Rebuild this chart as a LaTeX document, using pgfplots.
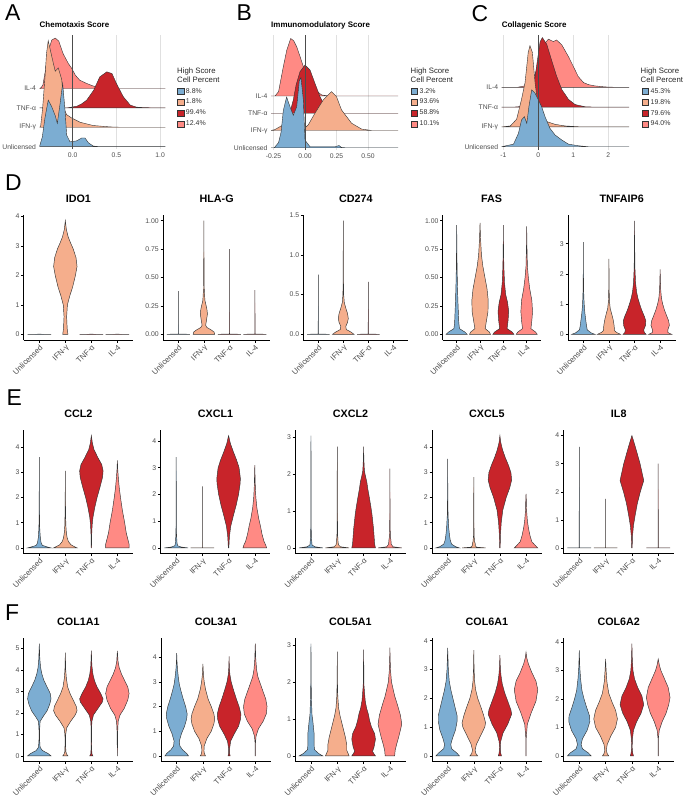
\documentclass[border=0pt]{standalone}
\usepackage{fontspec}
\setmainfont{Liberation Sans}
\usepackage{pgfplots}
\pgfplotsset{compat=1.18}
\definecolor{cBlue}{HTML}{7CADD2}
\definecolor{cPeach}{HTML}{F5AE8C}
\definecolor{cRed}{HTML}{C8242A}
\definecolor{cPink}{HTML}{FF8A84}

% violin: centre, colour, list of y/half-width (bottom to top)
\newcommand\vln[3]{%
  \gdef\vR{}\gdef\vL{}%
  \foreach \yy/\ww in {#3}{%
    \pgfmathsetmacro\xr{#1+\ww}\pgfmathsetmacro\xl{#1-\ww}%
    \xdef\vR{\vR(\xr,\yy)}\xdef\vL{(\xl,\yy)\vL}}%
  \edef\vtmp{\noexpand\addplot[fill=#2,draw=black!80,line width=0.45bp] coordinates {\vR\vL} -- cycle;}%
  \vtmp}
% ridge: baseline, colour, list of x/height
\newcommand\ridge[3]{%
  \gdef\vR{}%
  \foreach \xx/\hh in {#3}{%
    \pgfmathsetmacro\yv{#1+\hh}%
    \xdef\vR{\vR(\xx,\yv)}}%
  \edef\vtmp{\noexpand\addplot[fill=#2,draw=black!80,line width=0.4bp] coordinates {\vR} -- cycle;}%
  \vtmp}

\pgfplotsset{
  vio/.style={scale only axis, anchor=south west, height=123.5bp,
    xmin=0.4, xmax=4.6, xtick={1,2,3,4},
    xticklabels={Unlicensed,IFN-γ,TNF-α,IL-4},
    axis lines=left, axis line style={-,line width=0.5bp},
    tick align=outside, major tick length=2.5bp,
    every tick/.style={black,line width=0.5bp},
    xticklabel style={rotate=45,anchor=north east,font=\fontsize{7.8}{9}\selectfont,text=black!70,inner sep=1bp},
    yticklabel style={font=\fontsize{6.9}{8}\selectfont,text=black!70,inner sep=1.5bp},
    title style={font=\bfseries\fontsize{10.8}{12}\selectfont,at={(0.5,1)},anchor=base,inner sep=0pt,yshift=7bp}},
  rdg/.style={scale only axis, anchor=south west,
    axis line style={draw=none}, tick style={draw=none},
    ytick={0,1,2,3}, yticklabels={Unlicensed,IFN-γ,TNF-α,IL-4},
    xmajorgrids, grid style={black!12,line width=0.5bp},
    ticklabel style={font=\fontsize{6.8}{8}\selectfont,text=black!70},
    title style={at={(0,1)},anchor=base west,inner sep=0pt,yshift=1.5bp,font=\bfseries\fontsize{8}{9}\selectfont},
    reverse legend,
    legend style={draw=none,fill=none,font=\fontsize{7}{8}\selectfont,anchor=north west,
      row sep=0.6bp,inner sep=0pt,cells={anchor=west,text=black!80}},
    legend image code/.code={\draw[#1,draw=black!80,line width=0.4bp] (0bp,-3.2bp) rectangle (6.4bp,3.2bp);}},
}

\begin{document}
\begin{tikzpicture}
\useasboundingbox (0,0) rectangle (685bp,-798bp);

% ---------------- A
\begin{axis}[rdg, at={(39.5bp,-149bp)}, width=125.8bp, height=114bp,
  xmin=-0.38, xmax=1.06, ymin=-0.12, ymax=5.76,
  xtick={0,0.5,1}, xticklabels={0.0,0.5,1.0},
  title={Chemotaxis Score}, legend style={at={(1.093,0.553)}}]
\ridge{3}{cPink}{-0.38/0,-0.36/0.05,-0.34/0.2,-0.31/1.0,-0.28/1.9,-0.24/2.5,-0.2/2.6,-0.16/2.45,-0.11/1.8,-0.05/1.29,-0.01/1.03,0.03/0.69,0.08/0.43,0.16/0.26,0.24/0.12,0.31/0.03,0.38/0,1.06/0}
\addlegendentry{12.4\%}
\ridge{2}{cRed}{-0.38/0,-0.1/0,-0.05/0.01,0.05/0.09,0.1/0.2,0.16/0.4,0.24/0.91,0.31/1.6,0.39/1.86,0.45/1.77,0.5/1.26,0.58/0.57,0.66/0.14,0.73/0.04,0.8/0.02,0.94/0,1.06/0}
\addlegendentry{99.4\%}
\ridge{1}{cPeach}{-0.38/0,-0.367/0.05,-0.344/1.0,-0.317/2.6,-0.3/3.8,-0.28/4.47,-0.24/3.66,-0.2/2.89,-0.165/3.06,-0.126/2.47,-0.096/0.91,-0.069/0.65,-0.012/0.48,0.084/0.26,0.236/0.09,0.427/0.02,0.55/0,1.06/0}
\addlegendentry{1.8\%}
\ridge{0}{cBlue}{-0.38/0,-0.348/0.5,-0.317/1.5,-0.28/2.4,-0.24/2.06,-0.2/1.6,-0.176/1.2,-0.145/2.2,-0.115/3.27,-0.088/1.89,-0.069/0.6,-0.031/0.25,0.046/0.3,0.103/0.45,0.141/0.45,0.18/0.2,0.236/0.03,0.31/0,1.06/0}
\addlegendentry{8.8\%}
\addplot[black!70,line width=0.7bp,forget plot] coordinates {(0,-0.12) (0,5.76)};
\end{axis}

% ---------------- B
\begin{axis}[rdg, at={(271bp,-150bp)}, width=127.2bp, height=115bp,
  xmin=-0.27, xmax=0.74, ymin=-0.13, ymax=6.53,
  xtick={-0.25,0,0.25,0.5}, xticklabels={-0.25,0.00,0.25,0.50},
  title={Immunomodulatory Score}, legend style={at={(1.098,0.557)}}]
\ridge{3}{cPink}{-0.27/0,-0.238/0,-0.21/0.25,-0.172/1.7,-0.145/2.65,-0.114/3.33,-0.09/3.2,-0.066/2.85,-0.04/2.3,-0.013/1.7,0.026/0.92,0.079/0.35,0.132/0.06,0.185/0,0.74/0}
\addlegendentry{10.1\%}
\ridge{2}{cRed}{-0.27/0,-0.13/0,-0.119/0.05,-0.093/0.77,-0.071/1.63,-0.04/2.4,0.0/2.79,0.04/2.5,0.079/1.73,0.119/0.96,0.159/0.38,0.21/0.1,0.29/0,0.74/0}
\addlegendentry{58.8\%}
\ridge{1}{cPeach}{-0.27/0,-0.24/0.05,-0.18/0.3,-0.12/0.4,-0.06/0.35,-0.02/0.15,0.0/0.15,0.026/0.33,0.079/1.0,0.145/1.77,0.21/2.25,0.25/1.96,0.29/1.19,0.37/0.42,0.45/0.08,0.53/0,0.74/0}
\addlegendentry{93.6\%}
\ridge{0}{cBlue}{-0.27/0,-0.244/0,-0.21/0.3,-0.19/0.9,-0.172/2.17,-0.146/2.94,-0.119/2.37,-0.093/1.88,-0.066/2.37,-0.045/3.9,-0.032/4.06,-0.013/2.75,0.0/0.44,0.04/0.06,0.24/0.06,0.27/0.13,0.29/0.02,0.32/0,0.74/0}
\addlegendentry{3.2\%}
\addplot[black!70,line width=0.7bp,forget plot] coordinates {(0,-0.13) (0,6.53)};
\end{axis}

% ---------------- C
\begin{axis}[rdg, at={(501.6bp,-149.7bp)}, width=127.4bp, height=114.7bp,
  xmin=-1.05, xmax=2.59, ymin=-0.15, ymax=5.64,
  xtick={-1,0,1,2}, xticklabels={-1,0,1,2},
  title={Collagenic Score}, legend style={at={(1.1,0.555)}}]
\ridge{3}{cPink}{-1.05/0,-0.6/0,-0.3/0.1,-0.1/0.6,0.05/1.6,0.19/2.23,0.286/2.43,0.43/2.31,0.52/2.39,0.67/2.14,0.86/1.55,1.0/1.05,1.14/0.54,1.29/0.24,1.43/0.135,1.62/0.07,1.9/0.02,2.2/0,2.59/0}
\addlegendentry{94.0\%}
\ridge{2}{cRed}{-1.05/0,-0.7/0,-0.5/0.03,-0.3/0.3,-0.15/0.8,-0.05/2.07,0.05/3.3,0.114/3.51,0.24/3.17,0.38/2.36,0.52/1.57,0.67/0.89,0.86/0.39,1.05/0.13,1.33/0.02,1.6/0,2.59/0}
\addlegendentry{79.6\%}
\ridge{1}{cPeach}{-1.05/0,-0.8/0.05,-0.62/0.39,-0.48/1.4,-0.38/2.24,-0.29/3.76,-0.24/4.1,-0.17/3.76,-0.095/2.24,0.0/0.89,0.19/0.3,0.48/0.13,0.76/0.05,1.24/0,2.59/0}
\addlegendentry{19.8\%}
\ridge{0}{cBlue}{-1.05/0,-0.71/0.13,-0.57/0.67,-0.48/1.35,-0.4/1.52,-0.33/1.18,-0.27/2.02,-0.19/2.87,-0.095/2.7,0.0/2.36,0.095/2.02,0.19/1.52,0.33/0.93,0.48/0.59,0.67/0.34,0.86/0.13,1.14/0.05,1.43/0,2.59/0}
\addlegendentry{45.3\%}
\addplot[black!70,line width=0.7bp,forget plot] coordinates {(0,-0.15) (0,5.64)};
\end{axis}

% legend titles
\node[anchor=north west,align=left,inner sep=0pt,font=\fontsize{7.8}{8.8}\selectfont,text=black!85] at (177bp,-67.5bp) {High Score\\Cell Percent};
\node[anchor=north west,align=left,inner sep=0pt,font=\fontsize{7.8}{8.8}\selectfont,text=black!85] at (410.5bp,-67.5bp) {High Score\\Cell Percent};
\node[anchor=north west,align=left,inner sep=0pt,font=\fontsize{7.8}{8.8}\selectfont,text=black!85] at (640.5bp,-67.5bp) {High Score\\Cell Percent};

% ---------------- D row
\begin{axis}[vio, at={(23.7bp,-340bp)}, width=109.3bp, height=125bp, ymin=-0.1925, ymax=4.0425,
  ytick={0,1,2,3,4}, yticklabels={0,1,2,3,4}, title={IDO1}]
\vln{1}{cBlue}{0/0.45,0.004/0}
\vln{2}{cPeach}{0/0.1,0.2/0.07,0.6/0.05,1.0/0.08,1.3/0.17,1.6/0.28,2.0/0.39,2.3/0.45,2.6/0.41,2.9/0.3,3.1/0.2,3.3/0.11,3.55/0.04,3.85/0}
\vln{3}{cRed}{0/0.45,0.004/0}
\vln{4}{cPink}{0/0.45,0.004/0}
\end{axis}
\begin{axis}[vio, at={(163bp,-340bp)}, width=107.3bp, height=125bp, ymin=-0.05, ymax=1.05,
  ytick={0,0.25,0.5,0.75,1}, yticklabels={0.00,0.25,0.50,0.75,1.00}, title={HLA-G}]
\vln{1}{cBlue}{0/0.45,0.003/0.004,0.38/0}
\vln{2}{cPeach}{0/0.42,0.02/0.4,0.04/0.28,0.06/0.12,0.08/0.07,0.12/0.1,0.18/0.14,0.22/0.12,0.3/0.04,0.4/0.015,0.55/0.008,1.0/0}
\vln{3}{cRed}{0/0.45,0.003/0.004,0.75/0}
\vln{4}{cPink}{0/0.45,0.003/0.004,0.39/0}
\end{axis}
\begin{axis}[vio, at={(303.3bp,-340bp)}, width=105bp, height=125bp, ymin=-0.0715, ymax=1.5015,
  ytick={0,0.5,1,1.5}, yticklabels={0.0,0.5,1.0,1.5}, title={CD274}]
\vln{1}{cBlue}{0/0.45,0.004/0.004,0.75/0}
\vln{2}{cPeach}{0/0.43,0.03/0.3,0.06/0.12,0.1/0.1,0.15/0.17,0.2/0.2,0.26/0.17,0.33/0.1,0.4/0.04,0.5/0.015,0.7/0.006,1.43/0}
\vln{3}{cRed}{0/0.45,0.004/0.004,0.66/0}
\end{axis}
\begin{axis}[vio, at={(442.7bp,-340bp)}, width=98bp, height=125bp, ymin=-0.05, ymax=1.05,
  ytick={0,0.25,0.5,0.75,1}, yticklabels={0.00,0.25,0.50,0.75,1.00}, title={FAS}]
\vln{1}{cBlue}{0/0.45,0.02/0.35,0.05/0.12,0.1/0.09,0.2/0.07,0.3/0.05,0.45/0.03,0.6/0.015,0.8/0.006,0.96/0}
\vln{2}{cPeach}{0/0.45,0.02/0.4,0.05/0.22,0.1/0.26,0.2/0.34,0.3/0.35,0.4/0.3,0.5/0.21,0.6/0.12,0.7/0.06,0.85/0.02,0.98/0}
\vln{3}{cRed}{0/0.45,0.02/0.38,0.05/0.16,0.12/0.2,0.2/0.23,0.28/0.18,0.35/0.1,0.45/0.05,0.6/0.02,0.8/0.006,0.96/0}
\vln{4}{cPink}{0/0.45,0.02/0.38,0.05/0.18,0.12/0.22,0.2/0.25,0.3/0.22,0.4/0.13,0.5/0.07,0.6/0.03,0.8/0.008,0.95/0}
\end{axis}
\begin{axis}[vio, at={(568bp,-340bp)}, width=107.5bp, height=125bp, ymin=-0.188, ymax=3.948,
  ytick={0,1,2,3}, yticklabels={0,1,2,3}, title={TNFAIP6}]
\vln{1}{cBlue}{0/0.45,0.05/0.3,0.15/0.15,0.3/0.12,0.5/0.09,0.7/0.06,0.9/0.04,1.2/0.02,1.6/0.008,2.2/0.004,3.05/0}
\vln{2}{cPeach}{0/0.45,0.06/0.3,0.12/0.22,0.3/0.2,0.5/0.16,0.7/0.1,0.85/0.05,1.1/0.02,1.5/0.008,2.5/0}
\vln{3}{cRed}{0/0.45,0.06/0.38,0.15/0.36,0.3/0.43,0.45/0.44,0.6/0.38,0.8/0.28,1.0/0.2,1.2/0.13,1.4/0.08,1.7/0.04,2.2/0.015,3.0/0.005,3.75/0}
\vln{4}{cPink}{0/0.45,0.06/0.3,0.15/0.3,0.3/0.36,0.45/0.33,0.6/0.26,0.8/0.17,1.0/0.1,1.2/0.05,1.5/0.02,2.15/0}
\end{axis}

% ---------------- E row
\begin{axis}[vio, at={(23.7bp,-553.5bp)}, width=109.3bp, ymin=-0.2225, ymax=4.6725,
  ytick={0,1,2,3,4}, yticklabels={0,1,2,3,4}, title={CCL2}]
\vln{1}{cBlue}{0/0.45,0.04/0.3,0.1/0.12,0.2/0.07,0.4/0.04,0.7/0.02,1.0/0.01,2.0/0.004,3.6/0}
\vln{2}{cPeach}{0/0.45,0.05/0.35,0.12/0.22,0.25/0.12,0.4/0.07,0.6/0.04,0.9/0.02,1.5/0.008,3.05/0}
\vln{3}{cRed}{0/0.005,0.5/0.012,0.9/0.03,1.2/0.06,1.6/0.13,2.0/0.22,2.4/0.33,2.8/0.43,3.05/0.45,3.3/0.4,3.6/0.24,3.9/0.1,4.15/0.04,4.45/0}
\vln{4}{cPink}{0/0.45,0.15/0.45,0.35/0.4,0.6/0.34,1.0/0.28,1.5/0.19,2.0/0.12,2.4/0.07,2.8/0.035,3.1/0.015,3.47/0}
\end{axis}
\begin{axis}[vio, at={(160.5bp,-553.5bp)}, width=110bp, ymin=-0.21, ymax=4.41,
  ytick={0,1,2,3,4}, yticklabels={0,1,2,3,4}, title={CXCL1}]
\vln{1}{cBlue}{0/0.45,0.03/0.2,0.08/0.05,0.2/0.03,0.5/0.012,1.0/0.006,3.4/0}
\vln{2}{cPeach}{0/0.45,0.003/0.004,2.3/0}
\vln{3}{cRed}{0/0.01,0.4/0.03,0.8/0.08,1.2/0.18,1.6/0.29,2.0/0.38,2.4/0.44,2.6/0.45,3.0/0.4,3.3/0.3,3.6/0.18,3.9/0.07,4.2/0}
\vln{4}{cPink}{0/0.45,0.1/0.42,0.25/0.35,0.5/0.28,0.8/0.22,1.1/0.15,1.5/0.08,1.9/0.04,2.3/0.02,3.1/0}
\end{axis}
\begin{axis}[vio, at={(295.2bp,-553.5bp)}, width=110.5bp, ymin=-0.1525, ymax=3.2025,
  ytick={0,1,2,3}, yticklabels={0,1,2,3}, title={CXCL2}]
\vln{1}{cBlue}{0/0.45,0.03/0.15,0.08/0.04,0.3/0.015,0.6/0.008,3.05/0}
\vln{2}{cPeach}{0/0.45,0.03/0.12,0.08/0.05,0.15/0.03,0.4/0.01,2.75/0}
\vln{3}{cRed}{0/0.45,0.1/0.42,0.3/0.4,0.5/0.38,0.7/0.35,0.9/0.32,1.1/0.28,1.4/0.21,1.6/0.16,1.8/0.12,1.95/0.07,2.1/0.03,2.4/0.01,2.75/0}
\vln{4}{cPink}{0/0.45,0.03/0.12,0.1/0.05,0.2/0.04,0.3/0.02,0.6/0.008,2.15/0}
\end{axis}
\begin{axis}[vio, at={(432bp,-553.5bp)}, width=109.7bp, ymin=-0.223, ymax=4.683,
  ytick={0,1,2,3,4}, yticklabels={0,1,2,3,4}, title={CXCL5}]
\vln{1}{cBlue}{0/0.45,0.05/0.3,0.15/0.15,0.3/0.1,0.5/0.07,0.8/0.04,1.0/0.03,1.3/0.015,2.0/0.006,3.54/0}
\vln{2}{cPeach}{0/0.45,0.03/0.1,0.1/0.05,0.15/0.06,0.25/0.03,0.5/0.01,2.81/0}
\vln{3}{cRed}{0/0.01,0.5/0.02,1.0/0.05,1.5/0.11,2.0/0.24,2.4/0.38,2.7/0.45,3.0/0.42,3.3/0.32,3.6/0.2,3.9/0.1,4.2/0.03,4.46/0}
\vln{4}{cPink}{0/0.45,0.1/0.35,0.25/0.22,0.5/0.15,0.8/0.09,1.1/0.05,1.5/0.02,2.0/0.008,2.15/0}
\end{axis}
\begin{axis}[vio, at={(563.5bp,-553.5bp)}, width=110.5bp, ymin=-0.2, ymax=4.2,
  ytick={0,1,2,3,4}, yticklabels={0,1,2,3,4}, title={IL8}]
\vln{1}{cBlue}{0/0.45,0.003/0.004,3.6/0}
\vln{2}{cPeach}{0/0.45,0.003/0.004,1.75/0}
\vln{3}{cRed}{0/0.01,0.4/0.02,0.8/0.06,1.2/0.13,1.6/0.21,2.0/0.32,2.4/0.45,2.7/0.38,3.0/0.31,3.3/0.22,3.6/0.13,3.85/0.05,4.0/0}
\vln{4}{cPink}{0/0.45,0.003/0.004,3.0/0}
\end{axis}

% ---------------- F row
\begin{axis}[vio, at={(23.7bp,-761.5bp)}, width=109.3bp, ymin=-0.261, ymax=5.481,
  ytick={0,1,2,3,4,5}, yticklabels={0,1,2,3,4,5}, title={COL1A1}]
\vln{1}{cBlue}{0/0.45,0.1/0.35,0.25/0.12,0.4/0.03,0.8/0.01,1.2/0.012,1.6/0.03,1.8/0.13,2.1/0.3,2.4/0.4,2.65/0.45,2.9/0.42,3.2/0.3,3.5/0.18,3.8/0.1,4.1/0.05,4.5/0.02,5.22/0}
\vln{2}{cPeach}{0/0.1,0.08/0.05,0.2/0.02,0.6/0.01,1.0/0.015,1.3/0.05,1.6/0.2,1.9/0.38,2.1/0.45,2.3/0.42,2.6/0.3,2.9/0.18,3.2/0.09,3.6/0.04,4.0/0.015,4.8/0}
\vln{3}{cRed}{0/0.06,0.1/0.02,0.5/0.006,1.2/0.008,1.6/0.02,1.9/0.08,2.2/0.25,2.5/0.42,2.65/0.45,2.9/0.36,3.2/0.22,3.5/0.12,3.8/0.06,4.2/0.02,4.9/0}
\vln{4}{cPink}{0/0.004,1.0/0.008,1.6/0.03,1.9/0.1,2.2/0.26,2.6/0.4,2.9/0.45,3.2/0.4,3.5/0.28,3.8/0.16,4.1/0.07,4.4/0.025,4.88/0}
\end{axis}
\begin{axis}[vio, at={(161bp,-761.5bp)}, width=110bp, ymin=-0.2275, ymax=4.7775,
  ytick={0,1,2,3,4}, yticklabels={0,1,2,3,4}, title={COL3A1}]
\vln{1}{cBlue}{0/0.45,0.1/0.38,0.25/0.22,0.4/0.12,0.6/0.1,0.9/0.18,1.2/0.3,1.5/0.38,1.7/0.4,2.0/0.34,2.3/0.25,2.6/0.17,2.9/0.1,3.2/0.06,3.5/0.03,3.8/0.012,4.16/0}
\vln{2}{cPeach}{0/0.1,0.08/0.06,0.2/0.04,0.4/0.05,0.7/0.15,1.0/0.32,1.3/0.42,1.5/0.45,1.7/0.42,2.0/0.32,2.3/0.2,2.7/0.1,3.0/0.05,3.3/0.02,3.73/0}
\vln{3}{cRed}{0/0.04,0.1/0.02,0.3/0.02,0.6/0.06,0.9/0.2,1.2/0.36,1.5/0.44,1.7/0.45,2.0/0.38,2.3/0.28,2.7/0.16,3.0/0.08,3.3/0.03,3.6/0.01,4.03/0}
\vln{4}{cPink}{0/0.003,0.5/0.006,0.8/0.03,1.1/0.12,1.4/0.3,1.7/0.42,2.0/0.45,2.3/0.4,2.6/0.3,2.9/0.2,3.2/0.1,3.5/0.05,3.9/0.02,4.55/0}
\end{axis}
\begin{axis}[vio, at={(295.2bp,-761.5bp)}, width=110.5bp, ymin=-0.152, ymax=3.192,
  ytick={0,1,2,3}, yticklabels={0,1,2,3}, title={COL5A1}]
\vln{1}{cBlue}{0/0.45,0.06/0.3,0.17/0.13,0.3/0.12,0.6/0.12,0.8/0.09,0.95/0.07,1.1/0.04,1.3/0.03,1.6/0.015,2.2/0.005,3.04/0}
\vln{2}{cPeach}{0/0.45,0.05/0.42,0.15/0.36,0.3/0.36,0.5/0.31,0.7/0.24,0.9/0.17,1.1/0.1,1.3/0.05,1.6/0.02,2.0/0.006,2.82/0}
\vln{3}{cRed}{0/0.45,0.05/0.4,0.12/0.34,0.25/0.4,0.45/0.45,0.6/0.42,0.78/0.3,0.95/0.23,1.13/0.18,1.3/0.11,1.5/0.06,1.9/0.015,2.88/0}
\vln{4}{cPink}{0/0.18,0.15/0.2,0.3/0.25,0.5/0.33,0.7/0.4,0.86/0.45,1.1/0.4,1.4/0.28,1.6/0.19,1.75/0.14,2.0/0.06,2.3/0.025,2.6/0.01,2.93/0}
\end{axis}
\begin{axis}[vio, at={(432bp,-761.5bp)}, width=109.7bp, ymin=-0.195, ymax=4.095,
  ytick={0,1,2,3,4}, yticklabels={0,1,2,3,4}, title={COL6A1}]
\vln{1}{cBlue}{0/0.45,0.1/0.35,0.25/0.15,0.4/0.12,0.6/0.18,0.9/0.3,1.2/0.36,1.4/0.36,1.7/0.28,2.0/0.2,2.3/0.12,2.6/0.06,3.0/0.025,3.75/0}
\vln{2}{cPeach}{0/0.15,0.08/0.08,0.2/0.05,0.4/0.1,0.7/0.26,1.0/0.42,1.15/0.45,1.4/0.38,1.7/0.27,2.0/0.15,2.3/0.07,2.6/0.03,3.0/0.012,3.67/0}
\vln{3}{cRed}{0/0.06,0.1/0.03,0.3/0.015,0.5/0.03,0.8/0.12,1.1/0.3,1.45/0.45,1.6/0.42,1.9/0.3,2.2/0.18,2.5/0.09,2.8/0.04,3.1/0.015,3.5/0}
\vln{4}{cPink}{0/0.003,0.6/0.006,1.1/0.05,1.5/0.2,1.9/0.38,2.3/0.45,2.6/0.38,2.9/0.22,3.2/0.09,3.4/0.03,3.6/0}
\end{axis}
\begin{axis}[vio, at={(563.5bp,-761.5bp)}, width=110.5bp, ymin=-0.197, ymax=4.137,
  ytick={0,1,2,3,4}, yticklabels={0,1,2,3,4}, title={COL6A2}]
\vln{1}{cBlue}{0/0.45,0.1/0.35,0.25/0.12,0.4/0.07,0.6/0.12,0.9/0.3,1.2/0.4,1.4/0.39,1.7/0.28,2.0/0.18,2.3/0.1,2.7/0.05,3.1/0.02,3.7/0}
\vln{2}{cPeach}{0/0.12,0.08/0.06,0.2/0.03,0.4/0.06,0.7/0.2,1.0/0.38,1.3/0.45,1.6/0.38,1.9/0.24,2.2/0.12,2.6/0.05,3.0/0.02,3.4/0}
\vln{3}{cRed}{0/0.06,0.1/0.03,0.3/0.01,0.6/0.02,0.9/0.06,1.2/0.18,1.5/0.35,1.8/0.45,2.1/0.38,2.4/0.22,2.7/0.1,3.0/0.04,3.4/0.015,3.94/0}
\vln{4}{cPink}{0/0.003,0.6/0.006,0.9/0.04,1.2/0.15,1.5/0.3,1.8/0.4,2.05/0.45,2.4/0.38,2.7/0.24,3.0/0.1,3.2/0.04,3.4/0}
\end{axis}

% panel letters
\node[anchor=north west,inner sep=0pt,font=\fontsize{23}{23}\selectfont] at (5bp,-5bp) {A};
\node[anchor=north west,inner sep=0pt,font=\fontsize{23}{23}\selectfont] at (236.5bp,-5bp) {B};
\node[anchor=north west,inner sep=0pt,font=\fontsize{23}{23}\selectfont] at (471.5bp,-5bp) {C};
\node[anchor=north west,inner sep=0pt,font=\fontsize{23}{23}\selectfont] at (5bp,-175bp) {D};
\node[anchor=north west,inner sep=0pt,font=\fontsize{23}{23}\selectfont] at (6.5bp,-390bp) {E};
\node[anchor=north west,inner sep=0pt,font=\fontsize{23}{23}\selectfont] at (5bp,-605bp) {F};
\end{tikzpicture}
\end{document}
